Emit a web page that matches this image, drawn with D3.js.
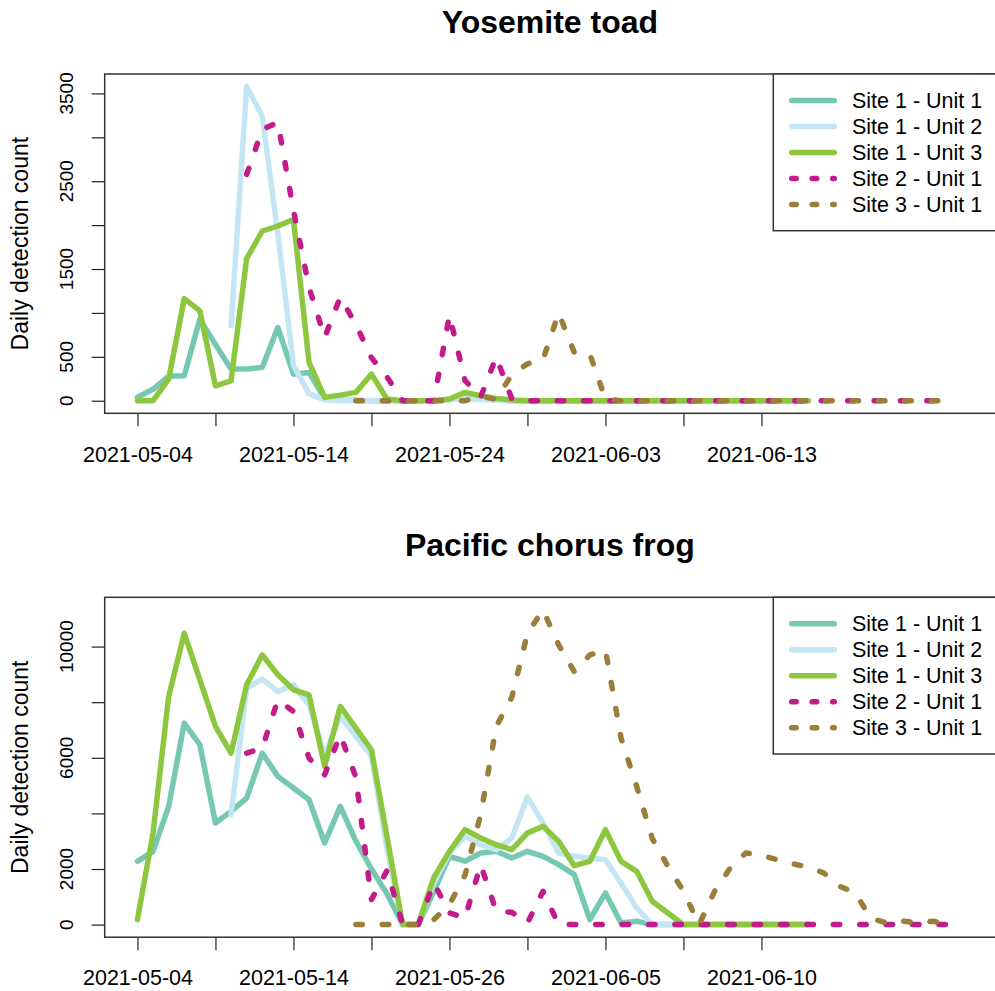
<!DOCTYPE html>
<head>
<meta charset="utf-8">
<script src="https://d3js.org/d3.v7.min.js"></script>
<style>
  body { margin: 0; background: #fff; }
  text { font-family: "Liberation Sans", Arial, sans-serif; fill: #000; }
</style>
</head>
<body>
<div id="datavis"></div>

<script type="text/javascript">
    // series shown in both panels
    var seriesNames = ["Site 1 - Unit 1", "Site 1 - Unit 2", "Site 1 - Unit 3", "Site 2 - Unit 1", "Site 3 - Unit 1"];
    var seriesColors = ["#76C8B3", "#C4E6F4", "#8DC63F", "#C21C8A", "#9C7E3B"];
    var seriesDashed = [false, false, false, true, true];

    // Yosemite toad, daily counts (index = day since first date, null = unit not recording)
    var toadS1U1 = [40,130,280,285,930,640,360,360,380,834,303,322,20,8,5,0,0,0,0,0,
                    15,35,25,10,0,0,0,0,0,0,0,0,0,0,0,0,0,0,0,0,
                    0,0,0,0];
    var toadS1U2 = [null,null,null,null,null,null,853,3578,3240,1900,400,80,10,0,0,0,0,0,0,0,
                    10,25,15,5,0,0,0,0,0,0,0,0,0,0,0,0,0,0,0,0,
                    0,0,0,0];
    var toadS1U3 = [0,0,246,1163,1023,170,227,1618,1933,1990,2065,436,38,64,95,303,19,0,0,0,
                    19,95,57,27,8,0,0,0,0,0,0,0,0,0,0,0,0,0,0,0,
                    0,0,0,0];
    var toadS2U1 = [null,null,null,null,null,null,null,2577,3090,3170,2170,1290,720,1180,870,490,270,0,0,0,
                    975,230,40,500,20,0,0,0,0,0,0,0,0,0,0,0,0,0,0,0,
                    0,0,0,0,0,0,0,0,0,0,0,0,0];
    var toadS3U1 = [null,null,null,null,null,null,null,null,null,null,null,null,null,null,0,0,0,0,0,0,
                    0,0,50,15,300,420,470,1000,550,530,20,0,0,0,0,0,0,0,0,0,
                    0,0,0,0,0,0,0,0,0,0,0,0,0];

    // Pacific chorus frog, daily counts
    var frogS1U1 = [2276,2636,4253,7248,6469,3654,4073,4552,6170,5331,4912,4493,2935,4250,3000,2000,1100,0,0,1200,
                    2450,2280,2576,2636,2396,2636,2456,2156,1797,180,1138,60,120,0,0,0,0,0,0,0,
                    0,0,0,0];
    var frogS1U2 = [null,null,null,null,null,null,3953,8500,8830,8386,8626,7900,6100,7490,6770,6050,2700,0,0,1500,
                    2576,3175,2875,2695,3115,4588,3654,2576,2456,2396,2336,1498,600,0,0,0,0,0,0,0,
                    0,0,0,0];
    var frogS1U3 = [180,3300,8203,10480,8805,7128,6170,8626,9704,8985,8446,8266,5690,7847,7070,6290,3150,0,0,1700,
                    2636,3414,3115,2875,2695,3295,3534,2995,2120,2276,3414,2276,1917,839,420,0,0,0,0,0,
                    0,0,0,0];
    var frogS2U1 = [null,null,null,null,null,null,null,6170,6350,8086,7667,5990,5390,6830,5300,900,1950,0,0,1500,
                    420,240,2156,480,443,60,1200,0,0,0,0,0,0,0,0,0,0,0,0,0,
                    0,0,0,0,0,0,0,0,0,0,0,0,0];
    var frogS3U1 = [null,null,null,null,null,null,null,null,null,null,null,null,null,null,0,0,0,0,0,180,
                    720,1785,3953,7128,8180,10480,11320,10060,9100,9700,9880,6710,4970,3100,2100,1200,0,1200,2037,2576,
                    2490,2336,2190,2070,1857,1378,1150,240,60,130,60,120,0];

    // axis ticks and labels
    var xTicks = [0, 5, 10, 15, 20, 25, 30, 35, 40];
    var toadXLabels = {0: "2021-05-04", 10: "2021-05-14", 20: "2021-05-24", 30: "2021-06-03", 40: "2021-06-13"};
    var frogXLabels = {0: "2021-05-04", 10: "2021-05-14", 20: "2021-05-26", 30: "2021-06-05", 40: "2021-06-10"};
    var toadYTicks = [0, 500, 1000, 1500, 2000, 2500, 3000, 3500];
    var toadYLabels = [0, 500, 1500, 2500, 3500];
    var frogYTicks = [0, 2000, 4000, 6000, 8000, 10000];
    var frogYLabels = [0, 2000, 6000, 10000];

    var width = 995, height = 991;
    var left = 104.7, right = 997;

    var svg = d3.select("#datavis")
                .append("svg")
                .attr("width", width)
                .attr("height", height)
                .style("display", "block");

    svg.append("rect").attr("width", width).attr("height", height).attr("fill", "#fff");

    var x = d3.scaleLinear()
              .domain([-2.1, 55.1])
              .range([left, right]);

    function drawPanel(title, series, xLabels, yTicks, yLabels, top, bottom) {
        var g = svg.append("g");

        var ymax = d3.max(series, function(s) { return d3.max(s, function(v) { return v; }); });
        var y = d3.scaleLinear()
                  .domain([-0.04 * ymax, 1.04 * ymax])
                  .range([bottom, top]);

        // x axis
        var xAxis = g.append("g")
           .attr("transform", "translate(0," + bottom + ")")
           .call(d3.axisBottom(x)
                   .tickValues(xTicks)
                   .tickSize(13)
                   .tickPadding(20)
                   .tickFormat(function(d) { return xLabels[d] || ""; }));
        xAxis.select(".domain").remove();
        xAxis.selectAll("line").attr("stroke", "#222").attr("stroke-width", 1.2);
        xAxis.selectAll("text")
             .style("font-family", '"Liberation Sans", Arial, sans-serif')
             .style("font-size", "21.5px")
             .attr("fill", "#000");

        // y axis
        var yAxis = g.append("g")
           .attr("transform", "translate(" + left + ",0)")
           .call(d3.axisLeft(y).tickValues(yTicks).tickSize(13).tickFormat(""));
        yAxis.select(".domain").remove();
        yAxis.selectAll("line").attr("stroke", "#222").attr("stroke-width", 1.2);

        g.selectAll(".ylab")
         .data(yLabels)
         .enter()
         .append("text")
         .attr("transform", function(d) { return "translate(73," + y(d) + ") rotate(-90)"; })
         .attr("text-anchor", "middle")
         .style("font-size", "19px")
         .text(function(d) { return d; });

        g.append("text")
         .attr("transform", "translate(28," + ((top + bottom) / 2) + ") rotate(-90)")
         .attr("text-anchor", "middle")
         .style("font-size", "23px")
         .text("Daily detection count");

        g.append("text")
         .attr("x", (left + right) / 2 - 1)
         .attr("y", top - 41)
         .attr("text-anchor", "middle")
         .style("font-size", "32px")
         .style("font-weight", "bold")
         .text(title);

        // lines
        var line = d3.line()
                     .defined(function(d) { return d != null; })
                     .x(function(d, i) { return x(i); })
                     .y(function(d) { return y(d); });

        series.forEach(function(s, k) {
            g.append("path")
             .datum(s)
             .attr("fill", "none")
             .attr("stroke", seriesColors[k])
             .attr("stroke-width", 5.5)
             .attr("stroke-linecap", "round")
             .attr("stroke-linejoin", "round")
             .attr("stroke-dasharray", seriesDashed[k] ? "6.5,19.9" : null)
             .attr("d", line);
        });

        // plot box
        g.append("rect")
         .attr("x", left)
         .attr("y", top)
         .attr("width", right - left)
         .attr("height", bottom - top)
         .attr("fill", "none")
         .attr("stroke", "#333")
         .attr("stroke-width", 1.5);

        // legend
        var lx = 773.3;
        var leg = g.append("g");
        leg.append("rect")
           .attr("x", lx)
           .attr("y", top)
           .attr("width", right - lx)
           .attr("height", 156.7)
           .attr("fill", "#fff")
           .attr("stroke", "#333")
           .attr("stroke-width", 1.5);

        seriesNames.forEach(function(name, k) {
            var ly = top + 26.5 + k * 26;
            leg.append("line")
               .attr("x1", 791.7).attr("x2", 834.3)
               .attr("y1", ly).attr("y2", ly)
               .attr("stroke", seriesColors[k])
               .attr("stroke-width", 5.5)
               .attr("stroke-linecap", "round")
               .attr("stroke-dasharray", seriesDashed[k] ? "4.5,16" : null);
            leg.append("text")
               .attr("x", 852)
               .attr("y", ly + 7.6)
               .style("font-size", "21.5px")
               .text(name);
        });
    }

    drawPanel("Yosemite toad",
              [toadS1U1, toadS1U2, toadS1U3, toadS2U1, toadS3U1],
              toadXLabels, toadYTicks, toadYLabels, 74, 413.3);

    drawPanel("Pacific chorus frog",
              [frogS1U1, frogS1U2, frogS1U3, frogS2U1, frogS3U1],
              frogXLabels, frogYTicks, frogYLabels, 597.3, 937.2);
</script>
</body>
